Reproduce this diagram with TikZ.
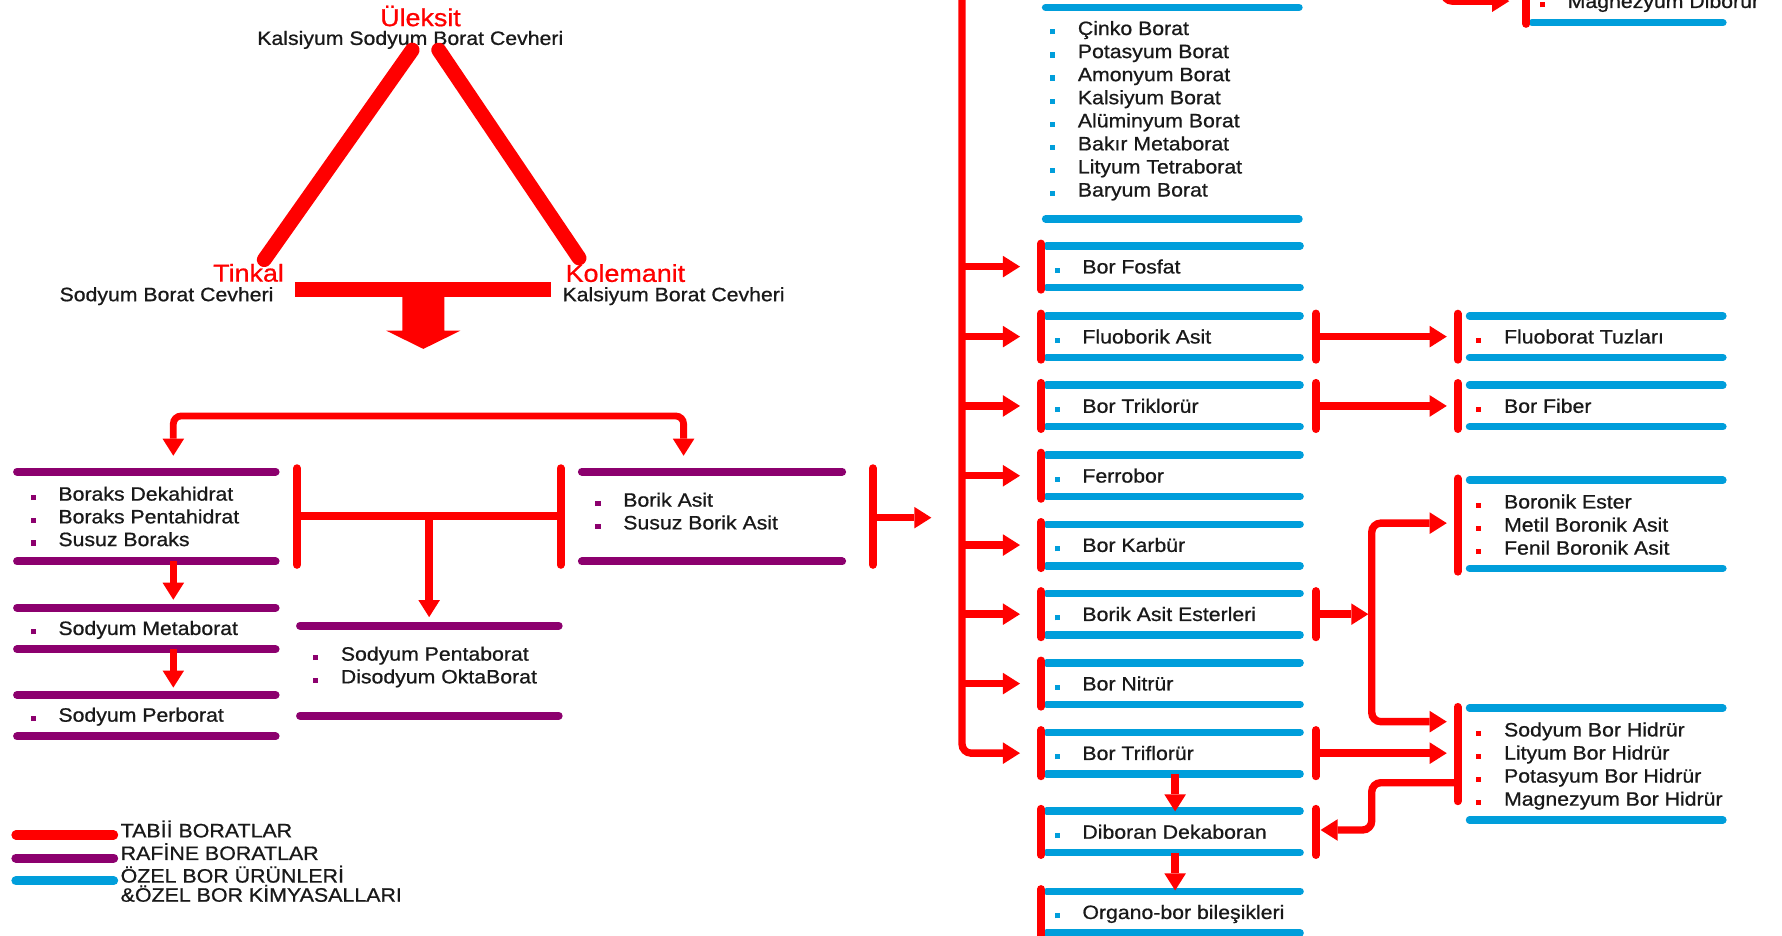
\documentclass[tikz,border=0pt]{standalone}
\usepackage{fontspec}
\setmainfont[FakeStretch=1.1,FakeBold=0.8]{Liberation Sans}
\usetikzlibrary{arrows.meta,fit}
\definecolor{bred}{RGB}{255,0,0}
\definecolor{bpurple}{RGB}{140,0,110}
\definecolor{bblue}{RGB}{0,158,219}
\definecolor{ink}{RGB}{25,25,25}

% small square bullet in front of an entry
\newcommand\dotmark[1]{\makebox[24.5pt][l]{\textcolor{#1}{\rule[0.5pt]{4.5pt}{4.5pt}}}}

% a product band: an empty node spanning the area, ruled above and below
\newcommand\panel[6]{%
  \node[area, fit={(#2,#4) (#3,#5)}] (#1) {};
  \draw[#6] (#1.north west) -- (#1.north east);
  \draw[#6] (#1.south west) -- (#1.south east);
}

% a column of bulleted entries: prefix, bullet x, first baseline, step, colour, list
\newcommand\entries[6]{%
  \foreach \t [count=\k] in {#6}{
    \node[itm] (#1\k) at ({#2-2.25},{#3+#4*(\k-1)}) {\dotmark{#5}\t};
  }
}

\begin{document}
\begin{tikzpicture}[x=1pt,y=-1pt,
  area/.style={inner sep=0pt,outer sep=0pt},
  itm/.style={anchor=base west,inner sep=0pt,text=ink,font=\fontsize{17}{20}\selectfont},
  tipT/.tip={Triangle[length=15pt,width=19pt,line width=0pt]},
  redln/.style={draw=bred,line width=6.5pt},
  arr/.style={redln,-tipT},
  darr/.style={redln,tipT-tipT},
  bar/.style={draw=bred,line width=7pt,line cap=round},
  pline/.style={draw=bpurple,line width=7pt,line cap=round},
  bline/.style={draw=bblue,line width=6.5pt,line cap=round},
  ore/.style={anchor=base,inner sep=0pt,text=bred,font=\fontsize{21.5}{24}\selectfont},
  oresub/.style={anchor=base,inner sep=0pt,text=ink,font=\fontsize{17}{20}\selectfont},
  legtext/.style={anchor=base west,inner sep=0pt,text=ink,font=\fontsize{17.1}{20}\selectfont},
  legline/.style={line width=8pt,line cap=round},
]
\useasboundingbox (0,0) rectangle (1568,823);
\clip (0,0) rectangle (1568,823);

% ---------------- ores ----------------
\node[ore] (ul) at (370,23) {Üleksit};
\node[oresub] (ulsub) at (361,39.5) {Kalsiyum Sodyum Borat Cevheri};
\node[ore] (tk) at (218.7,247.8) {Tinkal};
\node[oresub] (tksub) at (146.5,265) {Sodyum Borat Cevheri};
\node[ore] (kl) at (550.3,248) {Kolemanit};
\node[oresub] (klsub) at (592.7,265) {Kalsiyum Borat Cevheri};

\coordinate (ulL) at (362.7,44); \coordinate (tkT) at (232.5,228.5);
\coordinate (ulR) at (386,44);   \coordinate (klT) at (509.5,227);
\draw[draw=bred,line width=13pt,line cap=round] (ulL) -- (tkT);
\draw[draw=bred,line width=13pt,line cap=round] (ulR) -- (klT);
\coordinate (tkR) at (259.5,254.5); \coordinate (klL) at (485,254.5);
\draw[draw=bred,line width=13pt] (tkR) -- (klL);
% broad arrow down to the refined borates
\fill[bred] (354,254) -- (391,254) -- (391,291) -- (405,291) -- (372.5,307)
            -- (340,291) -- (354,291) -- cycle;

% ---------------- refined borates ----------------
\panel{borax}{15}{242.5}{415}{494}{pline}
\panel{boric}{512}{741}{415}{494}{pline}
\panel{meta}{15}{242.5}{534.7}{571.3}{pline}
\panel{perb}{15}{242.5}{611.5}{648}{pline}
\panel{penta}{264}{491.6}{550.5}{629.7}{pline}

\entries{borax}{29}{440.5}{20}{bpurple}{Boraks Dekahidrat,Boraks Pentahidrat,Susuz Boraks}
\entries{boric}{526}{445.8}{20}{bpurple}{Borik Asit,Susuz Borik Asit}
\entries{meta}{29}{558.7}{20}{bpurple}{Sodyum Metaborat}
\entries{perb}{29}{635}{20}{bpurple}{Sodyum Perborat}
\entries{penta}{277.5}{581.3}{20}{bpurple}{Sodyum Pentaborat,Disodyum OktaBorat}

\draw[darr,line width=6pt,rounded corners=7pt]
  (borax.north -| 152.5,0) ++(0,-14) -- (152.5,366) -- (601.5,366) -- ([yshift=14pt]boric.north -| 601.5,0);
\draw[arr] (152.5,494) -- ([yshift=7pt]meta.north -| 152.5,0);
\draw[arr] (152.5,571.3) -- ([yshift=6.5pt]perb.north -| 152.5,0);

\coordinate (bxR) at (261.3,454); \coordinate (baL) at (493.3,454);
\coordinate (baR) at (768,455.5);  \coordinate (hub) at (377.6,454);
\draw[bar] (261.3,412) -- (261.3,497);
\draw[bar] (493.3,412) -- (493.3,497);
\draw[bar] (768,412) -- (768,497);
\draw[redln] (bxR) -- (baL);
\draw[arr] (hub) -- ([yshift=7.5pt]penta.north -| hub);
\draw[arr] (baR) -- (819.5,455.5);

% ---------------- special boron products ----------------
\panel{salts}{920}{1143}{6.5}{192.7}{bline}
\entries{salts}{926}{30.8}{20.3}{bblue}{Çinko Borat,Potasyum Borat,Amonyum Borat,Kalsiyum Borat,Alüminyum Borat,Bakır Metaborat,Lityum Tetraborat,Baryum Borat}

\foreach \nm/\c/\txt in {fosfat/234.6/Bor Fosfat, fluob/296.2/Fluoborik Asit,
    trikl/357.2/Bor Triklorür, ferro/418.6/Ferrobor, karb/479.6/Bor Karbür,
    ester/540.4/Borik Asit Esterleri, nitr/601.5/Bor Nitrür,
    trifl/662.7/Bor Triflorür, dibor/732/Diboran Dekaboran,
    organo/802.6/Organo-bor bileşikleri}{
  \panel{\nm}{921}{1144}{\c-18.3}{\c+18.3}{bline}
  \entries{\nm}{930}{\c+6}{20}{bblue}{\txt}
  \draw[bar] ([xshift=-5pt,yshift=2pt]\nm.north west) -- ([xshift=-5pt,yshift=-2pt]\nm.south west);
}

% trunk with its branches
\coordinate (trunk) at (846.5,-20);
\draw[arr,rounded corners=8pt] (trunk) -- (846.5,662.7) -- ([xshift=-23.5pt]trifl.west);
\foreach \nm in {fosfat,fluob,trikl,ferro,karb,ester,nitr}
  \draw[arr] (846.5,0 |- \nm.west) -- ([xshift=-23.5pt]\nm.west);

% right-hand bars of the intermediates
\foreach \nm in {fluob,trikl,ester,trifl,dibor}
  \draw[bar] ([xshift=13.8pt,yshift=2pt]\nm.north east) -- ([xshift=13.8pt,yshift=-2pt]\nm.south east);

% second generation products
\panel{tuz}{1293}{1516}{277.9}{314.5}{bline}
\panel{fiber}{1293}{1516}{338.9}{375.5}{bline}
\panel{boron}{1293}{1516}{422.5}{500}{bline}
\panel{hidr}{1293}{1516}{623}{721.5}{bline}
\panel{mgb}{1348}{1516}{-18}{20}{bline}

\entries{tuz}{1301}{302.2}{20}{bred}{Fluoborat Tuzları}
\entries{fiber}{1301}{363.2}{20}{bred}{Bor Fiber}
\entries{boron}{1301}{447.4}{20.3}{bred}{Boronik Ester,Metil Boronik Asit,Fenil Boronik Asit}
\entries{hidr}{1301}{648}{20.3}{bred}{Sodyum Bor Hidrür,Lityum Bor Hidrür,Potasyum Bor Hidrür,Magnezyum Bor Hidrür}
\entries{mgb}{1357}{7}{20}{bred}{Magnezyum Diborür}

\draw[bar] (1282.5,276) -- (1282.5,316.5);
\draw[bar] (1282.5,337) -- (1282.5,377.5);
\draw[bar] (1282.5,421) -- (1282.5,503);
\draw[bar] (1282.5,622) -- (1282.5,705);
\draw[bar] (1343,-30) -- (1343,21);

\draw[arr] (1157.8,0 |- fluob.east) -- (1273,0 |- tuz.west);
\draw[arr] (1157.8,0 |- trikl.east) -- (1273,0 |- fiber.west);
\coordinate (fork) at (1207,540.4);
\draw[arr] (1157.8,0 |- ester.east) -- ([xshift=-3pt]fork);
\draw[darr,rounded corners=8pt] (1273,460.3) -- (1207,460.3) -- (1207,635) -- (1273,635);
\draw[arr] (1157.8,0 |- trifl.east) -- (1273,0 |- trifl.east);
\draw[arr,rounded corners=8pt] (1282.5,688.7) -- (1207,688.7) -- (1207,730.3) -- (1162,730.3);
\draw[arr] (1034,0 |- trifl.south) -- (1034,714);
\draw[arr] (1034,0 |- dibor.south) -- (1034,783.5);
\draw[arr,rounded corners=8pt] (1270,-40) -- (1270,1) -- (1328,1);

% ---------------- legend ----------------
\draw[legline,draw=bred] (14,734.7) -- (100,734.7);
\draw[legline,draw=bpurple] (14,755) -- (100,755);
\draw[legline,draw=bblue] (14,775) -- (100,775);
\node[legtext] (lg1) at (106,736.8) {TABİİ BORATLAR};
\node[legtext] (lg2) at (106,756.7) {RAFİNE BORATLAR};
\node[legtext] (lg3) at (106,776.6) {ÖZEL BOR ÜRÜNLERİ};
\node[legtext] (lg4) at (106,793.4) {\&ÖZEL BOR KİMYASALLARI};
\end{tikzpicture}
\end{document}
